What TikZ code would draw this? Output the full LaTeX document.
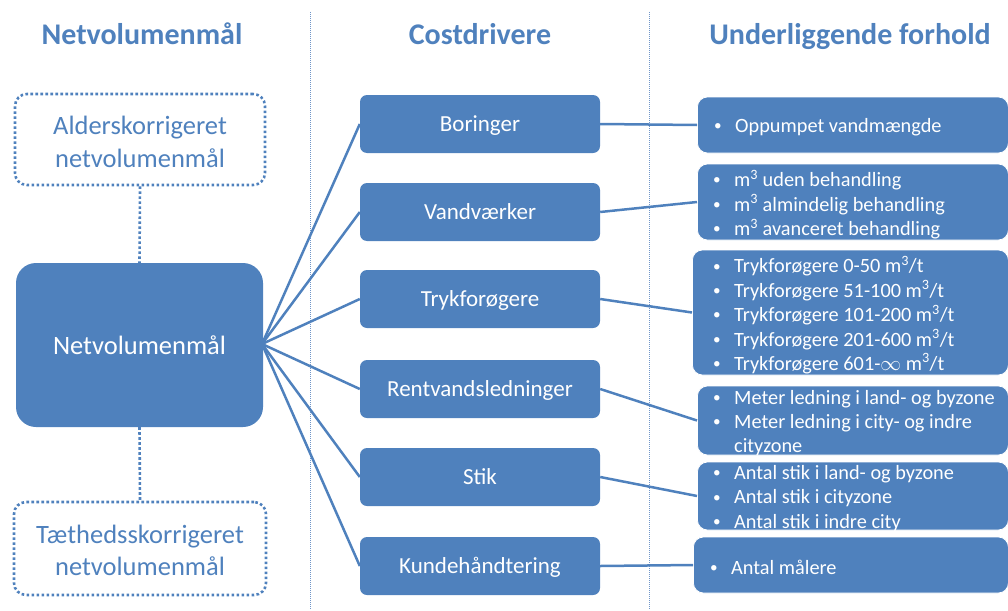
\documentclass[tikz,border=0pt]{standalone}
\usepackage{graphicx}
\usepackage{fontspec}
\setmainfont{Carlito}
\definecolor{obl}{HTML}{4F81BD}
\definecolor{sep}{HTML}{6F95C8}
\begin{document}
\begin{tikzpicture}[x=1pt,y=-1pt,
  header/.style={anchor=base,text=obl,font=\fontsize{30}{36}\selectfont\bfseries},
  dotbox/.style={draw=obl,line width=2.6pt,dash pattern=on 2.6pt off 2.4pt,rounded corners=12pt},
  dottext/.style={text=obl,align=center,font=\fontsize{26.5}{32.5}\selectfont,inner sep=0pt},
  bigbox/.style={fill=obl,rounded corners=20pt,text=white,font=\fontsize{26.5}{32}\selectfont,inner sep=0pt},
  midbox/.style={fill=obl,rounded corners=7pt,text=white,font=\fontsize{23}{28}\selectfont,
     minimum width=240pt,minimum height=58pt,inner sep=0pt,text height=15pt,text depth=0pt},
  rbox/.style={fill=obl,draw=white,line width=0.8pt,rounded corners=10pt,anchor=west,inner sep=0pt},
  rtext/.style={text=white,anchor=west,align=left,inner sep=0pt,yshift=-2.5pt,
     font=\fontsize{20.3}{24.4}\selectfont},
  conn/.style={draw=obl,line width=2.5pt},
  dconn/.style={draw=obl,line width=2.6pt,dash pattern=on 2.6pt off 2.4pt},
  sepline/.style={draw=sep,line width=1pt,dash pattern=on 1pt off 1pt}
]
\useasboundingbox (0,0) rectangle (1008,610);
\newcommand{\bl}[1][22pt]{\makebox[#1][l]{\hspace{1pt}\raisebox{0.09em}{\scalebox{0.75}{\textbullet}}}}

% separators
\coordinate (s1t) at (310,12); \coordinate (s1b) at (310,610);
\coordinate (s2t) at (649,12); \coordinate (s2b) at (649,610);
\draw[sepline] (s1t) -- (s1b);
\draw[sepline] (s2t) -- (s2b);

% headers
\node[header] (h1) at (142,45) {Netvolumenmål};
\node[header] (h2) at (480,45) {Costdrivere};
\node[header] (h3) at (850,45) {Underliggende forhold};

% left column
\node[dotbox,minimum width=250pt,minimum height=91pt] (alder) at (140,139.5) {};
\node[dottext] (alderT) at (140,142) {Alderskorrigeret\\netvolumenmål};
\node[bigbox,minimum width=247pt,minimum height=164pt] (net) at (139.5,345) {Netvolumenmål};
\node[dotbox,minimum width=252pt,minimum height=93pt] (taet) at (140,548.5) {};
\node[dottext] (taetT) at (140,550.5) {Tæthedsskorrigeret\\netvolumenmål};
\draw[dconn] (alder.south) -- (net.north);
\draw[dconn] (net.south) -- (taet.north);

% middle column
\node[midbox] (bor) at (480,124) {Boringer};
\node[midbox] (vand) at (480,212) {Vandværker};
\node[midbox] (tryk) at (480,299) {Trykforøgere};
\node[midbox] (rent) at (480,389) {Rentvandsledninger};
\node[midbox] (stik) at (480,477) {Stik};
\node[midbox] (kunde) at (480,566) {Kundehåndtering};

\coordinate (hub) at (262,344);
\foreach \n in {bor,vand,tryk,rent,stik,kunde}{\draw[conn] (hub) -- (\n.west);}

% right column boxes
\node[rbox,minimum width=311pt,minimum height=56pt] (r1) at (697,125) {};
\node[rbox,minimum width=311pt,minimum height=76pt] (r2) at (697,202) {};
\node[rbox,minimum width=316pt,minimum height=125pt] (r3) at (692,312.5) {};
\node[rbox,minimum width=311pt,minimum height=69pt] (r4) at (697,420.5) {};
\node[rbox,minimum width=311pt,minimum height=68pt] (r5) at (697,496) {};
\node[rbox,minimum width=315pt,minimum height=56pt] (r6) at (693,565) {};

% right column texts
\node[rtext] (t1) at (713,125) {\bl Oppumpet vandmængde};
\node[rtext] (t2) at (712,202) {\bl m\textsuperscript{3} uden behandling\\\bl m\textsuperscript{3} almindelig behandling\\\bl m\textsuperscript{3} avanceret behandling};
\node[rtext] (t3) at (712,312.5) {\bl Trykforøgere 0-50 m\textsuperscript{3}/t\\\bl Trykforøgere 51-100 m\textsuperscript{3}/t\\\bl Trykforøgere 101-200 m\textsuperscript{3}/t\\\bl Trykforøgere 201-600 m\textsuperscript{3}/t\\\bl Trykforøgere 601-$\infty$ m\textsuperscript{3}/t};
\node[rtext] (t4) at (712,420.5) {\bl Meter ledning i land- og byzone\\\bl Meter ledning i city- og indre\\\hspace*{22pt}cityzone};
\node[rtext] (t5) at (712,496) {\bl Antal stik i land- og byzone\\\bl Antal stik i cityzone\\\bl Antal stik i indre city};
\node[rtext] (t6) at (709,565) {\bl Antal målere};

\draw[conn] (bor.east) -- (r1.west);
\draw[conn] (vand.east) -- (r2.west);
\draw[conn] (tryk.east) -- (r3.west);
\draw[conn] (rent.east) -- (r4.west);
\draw[conn] (stik.east) -- (r5.west);
\draw[conn] (kunde.east) -- (r6.west);
\end{tikzpicture}
\end{document}
